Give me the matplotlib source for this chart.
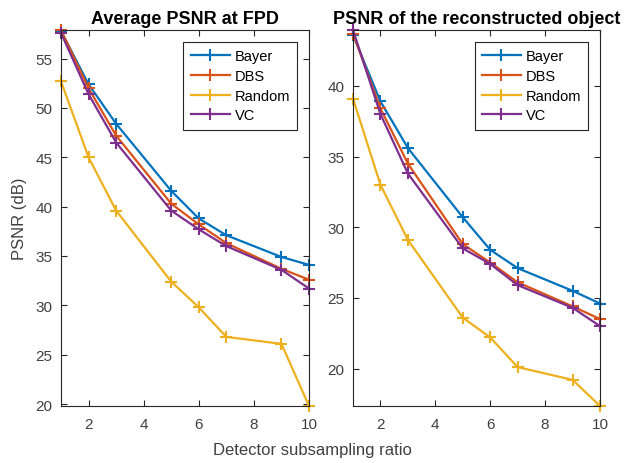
import matplotlib.pyplot as plt
import numpy as np

plt.rcParams['font.family'] = ['Liberation Sans', 'DejaVu Sans']

ratio = [1, 2, 3, 5, 6, 7, 9, 10]
names = ['Bayer', 'DBS', 'Random', 'VC']
colors = ['#0072BD', '#D95319', '#EDB120', '#7E2F8E']

# Average PSNR at FPD
fpd_bayer = [57.8, 52.4, 48.4, 41.6, 38.8, 37.1, 34.9, 34.1]
fpd_dbs = [57.9, 52.0, 47.2, 40.3, 38.2, 36.3, 33.7, 32.6]
fpd_random = [52.7, 45.0, 39.6, 32.4, 29.8, 26.8, 26.1, 19.8]
fpd_vc = [57.6, 51.4, 46.5, 39.6, 37.7, 36.0, 33.6, 31.7]

# PSNR of the reconstructed object
obj_bayer = [43.6, 38.9, 35.6, 30.7, 28.4, 27.1, 25.5, 24.6]
obj_dbs = [43.7, 38.4, 34.5, 28.8, 27.5, 26.1, 24.4, 23.5]
obj_random = [39.1, 33.0, 29.1, 23.6, 22.2, 20.1, 19.2, 17.35]
obj_vc = [43.95, 38.0, 33.8, 28.5, 27.4, 25.9, 24.3, 23.0]


def Panel(ax, series, title):
    for vals, name, c in zip(series, names, colors):
        ax.plot(ratio, vals, color=c, lw=1.6, marker='+', ms=8, mew=1.5, label=name,
                clip_on=False)
    allv = np.concatenate([np.array(s) for s in series])
    ax.set_xlim(1, 10)
    ax.set_ylim(allv.min(), allv.max())
    ax.set_xticks([2, 4, 6, 8, 10])
    ax.set_title(title, fontsize=13, fontweight='bold', pad=5)
    ax.tick_params(direction='in', top=True, right=True, labelsize=11,
                   colors='#262626', labelcolor='#404040', length=4, width=0.8)
    ax.tick_params(axis='x', pad=8)
    ax.tick_params(axis='y', pad=6)
    for s in ax.spines.values():
        s.set_color('#262626')
        s.set_linewidth(0.8)
    leg = ax.legend(loc='upper right', fontsize=10.5, fancybox=False,
                    framealpha=1, edgecolor='#262626', handlelength=2.7,
                    borderaxespad=0.8, labelspacing=0.4, handletextpad=0.3,
                    borderpad=0.5)
    leg.get_frame().set_linewidth(0.8)


fig = plt.figure(figsize=(6.25, 4.64), dpi=100)
ax1 = fig.add_axes([61 / 625, 1 - 407 / 464, 248 / 625, 376 / 464])
ax2 = fig.add_axes([353 / 625, 1 - 407 / 464, 247 / 625, 376 / 464])

Panel(ax1, [fpd_bayer, fpd_dbs, fpd_random, fpd_vc], 'Average PSNR at FPD')
Panel(ax2, [obj_bayer, obj_dbs, obj_random, obj_vc], 'PSNR of the reconstructed object')

ax1.set_ylabel('PSNR (dB)', fontsize=12, color='#404040', labelpad=6)
fig.text(0.5, 1 - 451 / 464, 'Detector subsampling ratio', ha='center', va='center',
         fontsize=12, color='#404040')

fig.savefig('out.png', dpi=100)
